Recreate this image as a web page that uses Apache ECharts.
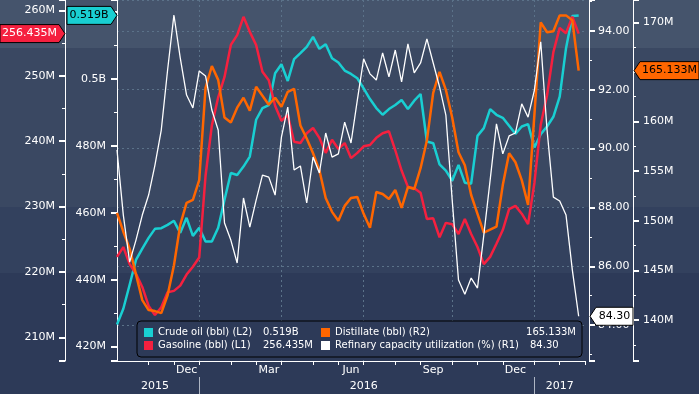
<!DOCTYPE html>
<html><head><meta charset="utf-8">
<script src="https://cdn.jsdelivr.net/npm/echarts@6/dist/echarts.min.js"></script>
<style>
html,body{margin:0;padding:0;background:#2d3a58;}
#c{width:699px;height:394px;background:linear-gradient(to bottom,#45546c 0px,#45546c 48px,#3a4862 48px,#3a4862 207px,#33415e 207px,#33415e 273px,#2d3a58 273px,#2d3a58 100%);}
</style></head><body><div id="c"></div>
<script>
const dates = ['2015-10-02','2015-10-09','2015-10-16','2015-10-23','2015-10-30','2015-11-06','2015-11-13','2015-11-20','2015-11-27','2015-12-04','2015-12-11','2015-12-18','2015-12-25',
'2016-01-01','2016-01-08','2016-01-15','2016-01-22','2016-01-29','2016-02-05','2016-02-12','2016-02-19','2016-02-26','2016-03-04','2016-03-11','2016-03-18','2016-03-25',
'2016-04-01','2016-04-08','2016-04-15','2016-04-22','2016-04-29','2016-05-06','2016-05-13','2016-05-20','2016-05-27','2016-06-03','2016-06-10','2016-06-17','2016-06-24',
'2016-07-01','2016-07-08','2016-07-15','2016-07-22','2016-07-29','2016-08-05','2016-08-12','2016-08-19','2016-08-26','2016-09-02','2016-09-09','2016-09-16','2016-09-23','2016-09-30',
'2016-10-07','2016-10-14','2016-10-21','2016-10-28','2016-11-04','2016-11-11','2016-11-18','2016-11-25','2016-12-02','2016-12-09','2016-12-16','2016-12-23','2016-12-30',
'2017-01-06','2017-01-13','2017-01-20','2017-01-27','2017-02-03','2017-02-10','2017-02-17','2017-02-24','2017-03-03'];

const crude = [426.6,431.3,438.5,445.9,449.3,452.5,455.2,455.4,456.4,457.6,
454.0,458.5,453.1,455.5,451.4,451.4,455.5,463.9,471.9,471.3,
473.8,476.8,487.8,491.3,492.2,501.7,504.4,499.4,505.9,507.7,
509.6,512.6,509.0,510.4,506.2,504.9,502.5,501.5,500.2,497.2,
494.0,491.3,489.3,491.0,492.2,493.7,491.0,493.5,495.5,481.3,
480.8,474.5,472.6,469.6,474.3,469.0,468.7,483.0,485.3,491.0,
489.3,488.4,486.0,483.6,485.8,486.5,479.5,483.5,485.8,488.7,
494.7,509.2,518.8,519.0];

const gasoline = [222.3,223.8,221.2,219.7,217.7,214.8,213.4,214.6,216.9,217.1,
217.9,219.6,220.8,222.2,234.7,242.4,246.7,249.8,254.7,256.2,
259.0,256.7,254.7,250.6,249.3,245.4,243.1,244.0,239.9,239.7,
241.2,242.0,240.5,238.2,240.2,238.8,239.7,237.4,238.2,239.2,
239.4,240.5,241.2,241.5,238.6,235.5,233.0,232.8,232.1,228.1,
228.2,225.3,227.5,227.3,225.8,228.1,225.8,223.8,221.2,222.3,
224.3,226.4,229.6,230.1,228.9,227.3,233.6,242.5,247.0,253.6,
257.3,256.5,259.0,256.435];

const distillate = [150.8,148.9,147.2,144.6,142.0,141.0,140.9,140.7,142.5,145.5,
149.6,151.8,152.1,154.1,163.4,165.6,164.2,160.4,159.9,161.4,
162.4,161.1,163.5,162.6,161.7,162.4,161.5,163.0,163.3,159.6,
158.3,156.8,155.1,152.3,150.9,150.0,151.5,152.3,152.4,150.7,
149.3,152.9,152.7,152.2,153.1,151.3,153.4,153.2,155.3,158.1,
162.9,165.0,163.2,160.4,156.9,155.6,152.6,150.7,148.8,149.1,
149.4,153.6,156.8,155.9,154.1,151.6,160.7,170.0,169.0,169.1,
170.7,170.7,170.2,165.133];

const refinery = [89.95,87.74,86.14,86.89,87.74,88.42,89.44,90.63,92.67,94.54,
93.08,91.82,91.38,92.64,92.47,91.31,90.63,87.47,86.89,86.11,
88.32,87.33,88.25,89.10,89.03,88.42,90.39,91.41,89.27,89.41,
88.15,89.71,89.17,90.53,89.71,89.82,90.90,90.19,91.65,93.05,
92.54,92.33,93.25,92.44,93.35,92.27,93.56,92.57,92.91,93.73,
92.91,92.10,91.14,88.25,85.53,85.05,85.60,85.26,87.06,88.93,
90.84,89.82,90.43,90.53,91.52,91.07,91.99,93.63,90.63,88.35,
88.22,87.74,85.87,84.30];

const seriesNames = ['Crude oil (bbl) (L2)','Gasoline (bbl) (L1)','Distillate (bbl) (R2)','Refinary capacity utilization (%) (R1)'];
const monthNames = ['Jan','Feb','Mar','Apr','May','Jun','Jul','Aug','Sep','Oct','Nov','Dec'];
const labelMonths = ['03','06','09','12'];
const quarterMonths = ['01','04','07','10'];
const yearLabelDates = ['2015-11-13','2016-07-01','2017-02-03'];

const FONT = 'DejaVu Sans';
const WHITE = '#ffffff';
const CYAN = '#19cfd2';
const RED = '#f5203f';
const ORANGE = '#ff6600';

const last = a => a[a.length-1];
const crudeLast = (last(crude)/1000).toFixed(3) + 'B';
const gasLast = last(gasoline).toFixed(3) + 'M';
const distLast = last(distillate).toFixed(3) + 'M';
const refLast = last(refinery).toFixed(2);

const mon = i => dates[i].slice(5,7);
const isMonthStart = i => i > 0 && mon(i) !== mon(i-1);
const isQuarterStart = i => isMonthStart(i) && quarterMonths.includes(mon(i));
const isYearStart = i => i > 0 && dates[i].slice(0,4) !== dates[i-1].slice(0,4);
const isMonthLabel = i => { const d = +dates[i].slice(8,10); return d >= 15 && d <= 21 && labelMonths.includes(mon(i)); };

const multipleOf = (v, step) => Math.abs(v/step - Math.round(v/step)) < 1e-6;

function yAx(pos, offset, min, max, split, step, fmt, margin) {
  return {
    type:'value', position:pos, offset:offset, min:min, max:max, splitNumber:split,
    axisLine:{show:true, onZero:false, lineStyle:{color:WHITE, width:1}},
    axisTick:{show:true, length:6, lineStyle:{color:WHITE, width:2}},
    minorTick:{show:true, splitNumber:2, length:3, lineStyle:{color:WHITE, width:1}},
    splitLine:{show:false},
    axisLabel:{color:WHITE, fontFamily:FONT, fontSize:11, margin:margin,
      formatter: v => multipleOf(v, step) ? fmt(v) : ''}
  };
}

const chart = echarts.init(document.getElementById('c'), null, {renderer:'canvas'});

const legendFmt = name => {
  if (name === seriesNames[0]) return '{n1|' + name + '}{v1|' + crudeLast + '}';
  if (name === seriesNames[1]) return '{n1|' + name + '}{v1|' + gasLast + '}';
  if (name === seriesNames[2]) return '{n2|' + name + '}{vr|' + distLast + '}';
  return '{n2|' + name + '}{vl|' + refLast + '}';
};

const lineSeries = (name, yi, data, color, width) => ({
  name:name, type:'line', xAxisIndex:0, yAxisIndex:yi, data:data,
  showSymbol:false, symbol:'none', smooth:false,
  lineStyle:{color:color, width:width}, itemStyle:{color:color},
  emphasis:{disabled:true}
});

chart.setOption({
  animation:false,
  backgroundColor:'transparent',
  grid:{left:117, right:114, top:0, bottom:33, containLabel:false},
  tooltip:{show:false},
  xAxis:[
    {type:'category', data:dates, boundaryGap:false,
     axisLine:{show:true, lineStyle:{color:WHITE, width:1}},
     axisTick:{show:true, interval:(i)=>isMonthStart(i), length:4, lineStyle:{color:WHITE}},
     axisLabel:{interval:(i)=>isMonthLabel(i), formatter:v=>monthNames[+v.slice(5,7)-1],
       color:WHITE, fontFamily:FONT, fontSize:11, margin:4},
     splitLine:{show:true, interval:(i)=>isQuarterStart(i), lineStyle:{color:'#5b7289', type:[2,3], width:1}}
    },
    {type:'category', data:dates, boundaryGap:false, position:'bottom', offset:16,
     axisLine:{show:false},
     axisTick:{show:true, interval:(i)=>isYearStart(i), length:17, lineStyle:{color:'#aeb6c4', width:1}},
     axisLabel:{interval:(i)=>yearLabelDates.includes(dates[i]), formatter:v=>v.slice(0,4),
       color:WHITE, fontFamily:FONT, fontSize:11, margin:4},
     splitLine:{show:false}
    }
  ],
  yAxis:[
    yAx('left', 52, 206.38, 261.57, 5, 10, v => v + 'M', 10),
    yAx('left', 0, 415.7, 523.6, 5, 20, v => v >= 500 ? (v/1000) + 'B' : v + 'M', 11),
    Object.assign(yAx('right', 4, 82.78, 95.05, 6, 2, v => v.toFixed(2), 9),
      {splitLine:{show:true, lineStyle:{color:'#5b7289', type:[2,3], width:1}}}),
    yAx('right', 48, 135.87, 172.25, 7, 5, v => v + 'M', 10)
  ],
  legend:{
    left:137, top:321, width:432, padding:[5,6,5,7],
    itemWidth:9, itemHeight:9, itemGap:0, icon:'rect',
    backgroundColor:'#2d3a58', borderColor:'#000000', borderWidth:1, borderRadius:4,
    selectedMode:false,
    data:[seriesNames[0], seriesNames[2], seriesNames[1], seriesNames[3]],
    formatter: legendFmt,
    textStyle:{color:WHITE, fontFamily:FONT, fontSize:10, lineHeight:13,
      rich:{
        n1:{width:105, color:WHITE, fontFamily:FONT, fontSize:10, lineHeight:13},
        v1:{width:58, color:WHITE, fontFamily:FONT, fontSize:10, lineHeight:13},
        n2:{width:195, color:WHITE, fontFamily:FONT, fontSize:10, lineHeight:13},
        vr:{width:46, align:'right', color:WHITE, fontFamily:FONT, fontSize:10, lineHeight:13},
        vl:{width:46, align:'left', color:WHITE, fontFamily:FONT, fontSize:10, lineHeight:13}
      }}
  },
  series:[
    lineSeries(seriesNames[0], 1, crude, CYAN, 2.5),
    lineSeries(seriesNames[1], 0, gasoline, RED, 2.5),
    lineSeries(seriesNames[2], 3, distillate, ORANGE, 2.5),
    lineSeries(seriesNames[3], 2, refinery, WHITE, 1.3)
  ]
});

function tag(side, yPix, xa, xb, text, fill, tc) {
  const h = 9, a = 6;
  let pts, cx;
  if (side === 'left') { pts = [[xa,yPix-h],[xb-a,yPix-h],[xb,yPix],[xb-a,yPix+h],[xa,yPix+h]]; cx = (xa + xb - a)/2; }
  else { pts = [[xa,yPix],[xa+a,yPix-h],[xb,yPix-h],[xb,yPix+h],[xa+a,yPix+h]]; cx = (xa + a + xb)/2; }
  return [
    {type:'polygon', z:100, shape:{points:pts}, style:{fill:fill, stroke:'#000000', lineWidth:1}},
    {type:'text', z:101, x:cx, y:yPix, style:{text:text, fill:tc, font:'11px "DejaVu Sans"', textAlign:'center', textVerticalAlign:'middle', verticalAlign:'middle'}}
  ];
}

const yG = chart.convertToPixel({yAxisIndex:0}, last(gasoline));
const yC = chart.convertToPixel({yAxisIndex:1}, last(crude));
const yR = chart.convertToPixel({yAxisIndex:2}, last(refinery));
const yD = chart.convertToPixel({yAxisIndex:3}, last(distillate));

chart.setOption({graphic:{elements:[].concat(
  tag('left', yG, 0, 65, gasLast, RED, WHITE),
  tag('left', yC, 67, 117, crudeLast, CYAN, '#000000'),
  tag('right', yR, 590, 633, refLast, WHITE, '#000000'),
  tag('right', yD, 634, 699, distLast, ORANGE, '#000000')
)}});
</script></body></html>
